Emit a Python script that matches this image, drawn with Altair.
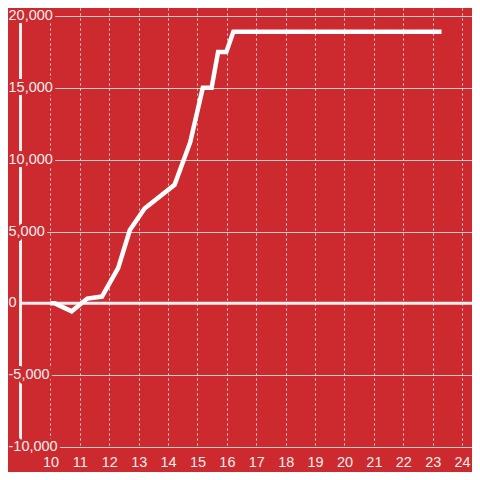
import altair as alt
import pandas as pd

# data
x_hours = [10.0, 10.15, 10.72, 11.25, 11.75, 12.3, 12.7, 13.2, 14.22, 14.75, 15.18, 15.48, 15.7, 15.98, 16.22, 23.3]
y_values = [0, 0, -550, 330, 470, 2450, 5100, 6600, 8250, 11200, 15000, 15000, 17500, 17500, 18900, 18900]
x_ticks = list(range(10, 25))
y_grid = [-10000, -7500, -5000, -2500, 0, 2500, 5000, 7500, 10000, 12500, 15000, 17500, 20000]
y_label_values = [-10000, -5000, 0, 5000, 10000, 15000, 20000]
y_label_texts = ["-10,000", "-5,000", "\u00a00", "\u00a05,000", "\u00a010,000", "\u00a015,000", "\u00a020,000"]

BG = "#cc2a2f"
FG = "#eeeeee"
FONT = "Liberation Sans"
FS = 14.5

line_df = pd.DataFrame({"x": x_hours, "y": y_values})
lab_df = pd.DataFrame({"y": y_label_values, "t": y_label_texts})
zero_df = pd.DataFrame({"y": [0]})

xs = alt.Scale(domain=[8.9626, 24.3368], nice=False, zero=False)
ys = alt.Scale(domain=[-10000, 20560], nice=False, zero=False)

x_axis = alt.Axis(values=x_ticks, grid=True, gridColor="#dddddd", gridDash=[2, 3], gridWidth=1,
                  domain=False, ticks=False, tickSize=0, labelPadding=8, labelFont=FONT,
                  labelFontSize=FS, labelColor=FG, title=None)
y_axis = alt.Axis(values=y_grid, grid=True, gridColor="#cccccc", gridWidth=1,
                  domain=True, domainColor=FG, domainWidth=3, ticks=False, labels=False, title=None)

base_line = alt.Chart(line_df).mark_line(color="white", strokeWidth=4.5).encode(
    x=alt.X("x:Q", scale=xs, axis=x_axis),
    y=alt.Y("y:Q", scale=ys, axis=y_axis),
)

zero_rule = alt.Chart(zero_df).mark_rule(color=FG, strokeWidth=3).encode(
    y=alt.Y("y:Q", scale=ys)
)

halo = alt.Chart(lab_df).mark_text(align="left", baseline="middle", font=FONT, fontSize=FS,
                                   fill=BG, stroke=BG, strokeWidth=6, strokeJoin="round").encode(
    x=alt.value(-11.5), y=alt.Y("y:Q", scale=ys), text="t:N"
)
labels = alt.Chart(lab_df).mark_text(align="left", baseline="middle", font=FONT, fontSize=FS,
                                     fill=FG).encode(
    x=alt.value(-11.5), y=alt.Y("y:Q", scale=ys), text="t:N"
)

chart = alt.layer(halo, labels, zero_rule, base_line).properties(
    width=452, height=439,
    autosize=alt.AutoSizeParams(type="none"),
    padding={"left": 12, "top": 0, "right": 0, "bottom": 25},
    background=BG,
).configure_view(stroke=None)

chart.save("out.html", embed_options={"renderer": "svg", "actions": False})
